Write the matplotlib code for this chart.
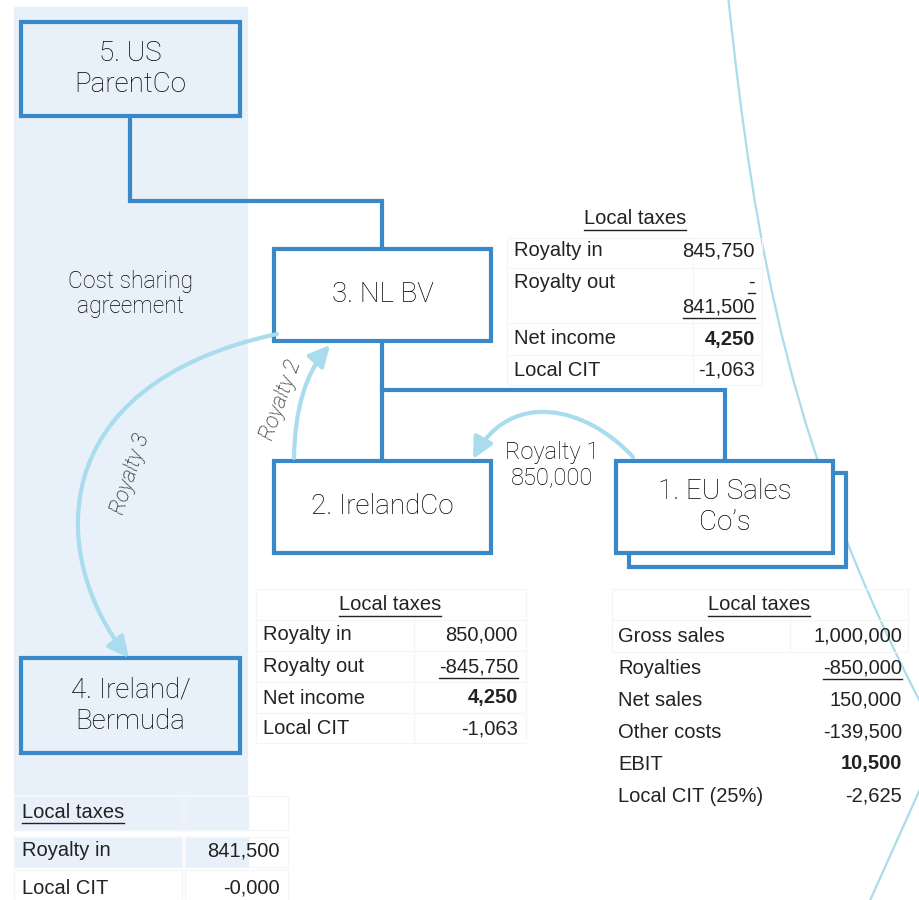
import matplotlib
matplotlib.use("Agg")
import matplotlib.pyplot as plt
from matplotlib.patches import Rectangle, FancyArrowPatch, PathPatch
from matplotlib.path import Path

# entities in the structure
entities = ["1. EU Sales\nCo\u2019s", "2. IrelandCo", "3. NL BV", "4. Ireland/\nBermuda", "5. US\nParentCo"]

# local tax tables
nl_labels = ["Royalty in", "Royalty out", "Net income", "Local CIT"]
nl_values = ["845,750", "-\n841,500", "4,250", "-1,063"]
ie_labels = ["Royalty in", "Royalty out", "Net income", "Local CIT"]
ie_values = ["850,000", "-845,750", "4,250", "-1,063"]
eu_labels = ["Gross sales", "Royalties", "Net sales", "Other costs", "EBIT", "Local CIT (25%)"]
eu_values = ["1,000,000", "-850,000", "150,000", "-139,500", "10,500", "-2,625"]
bm_labels = ["Royalty in", "Local CIT"]
bm_values = ["841,500", "-0,000"]
bold_rows = ["Net income", "EBIT"]
underlined_values = ["-845,750", "-850,000", "-\n841,500"]

royalty_labels = ["Royalty 1\n850,000", "Royalty 2", "Royalty 3"]

BLUE = "#3b88c9"
LIGHT = "#a9dcec"
PANEL = "#e8f0fa"
BOXFONT = dict(family=["Roboto", "DejaVu Sans"], fontweight="light", color="#000000")
TABFONT = dict(family=["Liberation Sans", "DejaVu Sans"], color="#222222")

fig = plt.figure(figsize=(9.19, 9.0), dpi=100)
ax = fig.add_axes([0, 0, 1, 1])
ax.set_xlim(0, 919)
ax.set_ylim(900, 0)
ax.axis("off")

# shaded cost sharing panel
ax.add_patch(Rectangle((14, 7), 233, 787, color=PANEL, zorder=0))
ax.add_patch(Rectangle((14, 796), 234, 34, color=PANEL, zorder=0))
ax.add_patch(Rectangle((14, 837), 168, 30, color=PANEL, zorder=0))
ax.add_patch(Rectangle((185, 837), 63, 30, color=PANEL, zorder=0))

# decorative arcs on the right
deco = Path([(728, -5), (755, 250), (790, 460), (935, 730)],
            [Path.MOVETO, Path.CURVE4, Path.CURVE4, Path.CURVE4])
ax.add_patch(PathPatch(deco, fill=False, ec=LIGHT, lw=1.6, zorder=1))
ax.plot([868, 925], [905, 778], color=LIGHT, lw=1.6, zorder=1)

# ownership lines
lw_box = 3.0
ax.plot([130, 130, 382, 382], [116, 201, 201, 249], color=BLUE, lw=lw_box,
        solid_joinstyle="miter", zorder=2)
ax.plot([382, 382], [341, 461], color=BLUE, lw=lw_box, zorder=2)
ax.plot([382, 725, 725], [390, 390, 461], color=BLUE, lw=lw_box,
        solid_joinstyle="miter", zorder=2)


def box(x0, y0, x1, y1, text, fc="white", size=20):
    ax.add_patch(Rectangle((x0, y0), x1 - x0, y1 - y0, fc=fc, ec=BLUE, lw=lw_box,
                           joinstyle="miter", zorder=3))
    ax.text((x0 + x1) / 2, (y0 + y1) / 2, text, ha="center", va="center",
            fontsize=size, linespacing=1.2, zorder=4, **BOXFONT)


# EU sales co's: stacked boxes
ax.add_patch(Rectangle((629, 473), 217, 94, fc="white", ec=BLUE, lw=lw_box, zorder=3))
box(616, 461, 833, 553, entities[0])
box(274, 461, 491, 553, entities[1])
box(274, 249, 491, 341, entities[2])
box(21, 658, 240, 753, entities[3], fc=PANEL)
box(21, 22, 240, 116, entities[4], fc=PANEL)

ax.text(130, 294, "Cost sharing\nagreement", ha="center", va="center", fontsize=16.5,
        linespacing=1.15, **BOXFONT)

# royalty flows
aprops = dict(arrowstyle="-|>,head_length=0.7,head_width=0.35", mutation_scale=18,
              color=LIGHT, lw=3.0, zorder=5)
r1 = Path([(633, 457), (585, 405), (510, 390), (473, 459)],
          [Path.MOVETO, Path.CURVE4, Path.CURVE4, Path.CURVE4])
r2 = Path([(294, 458), (295, 385), (330, 345)],
          [Path.MOVETO, Path.CURVE3, Path.CURVE3])
r3 = Path([(277, 334), (40, 385), (50, 560), (129, 658)],
          [Path.MOVETO, Path.CURVE4, Path.CURVE4, Path.CURVE4])
for p in (r1, r2, r3):
    ax.add_patch(FancyArrowPatch(path=p, **aprops))

ax.text(552, 465, royalty_labels[0], ha="center", va="center", fontsize=17,
        linespacing=1.1, **BOXFONT)
ax.text(281, 400, royalty_labels[1], ha="center", va="center", fontsize=15.5,
        rotation=70, style="italic", **BOXFONT)
ax.text(131, 474, royalty_labels[2], ha="center", va="center", fontsize=15.5,
        rotation=72, style="italic", **BOXFONT)

fig.canvas.draw()
renderer = fig.canvas.get_renderer()
inv = ax.transData.inverted()


def underline(t):
    bb = t.get_window_extent(renderer)
    (x0, y0), (x1, y1) = inv.transform([(bb.x0, bb.y0), (bb.x1, bb.y1)])
    ax.plot([x0, x1], [y0 + 1.0, y0 + 1.0], color="#222222", lw=1.0, zorder=6)


def cellbox(x0, y0, x1, y1):
    ax.add_patch(Rectangle((x0, y0), x1 - x0, y1 - y0, fill=False, ec="#f5f5f5",
                           lw=0.8, zorder=1))


def table(hx, hy, lx, vx, ys, labels, values, size=14.5, left_header=False):
    h = ax.text(hx, hy, "Local taxes", ha="left" if left_header else "center",
                va="center", fontsize=size, **TABFONT)
    underline(h)
    for y, lab, val in zip(ys, labels, values):
        w = "bold" if lab in bold_rows else "normal"
        ax.text(lx, y, lab, ha="left", va="center", fontsize=size, **TABFONT)
        if "\n" in val:
            parts = val.split("\n")
            t1 = ax.text(vx, y, parts[0], ha="right", va="center", fontsize=size, **TABFONT)
            t2 = ax.text(vx, y + 25, parts[1], ha="right", va="center", fontsize=size, **TABFONT)
            underline(t1)
            underline(t2)
        else:
            t = ax.text(vx, y, val, ha="right", va="center", fontsize=size,
                        fontweight=w, **TABFONT)
            if val in underlined_values:
                underline(t)


# faint cell outlines
for y0, y1 in [(238, 268), (268, 323), (323, 355), (355, 385)]:
    cellbox(507, y0, 693, y1)
    cellbox(693, y0, 762, y1)
for y0, y1 in [(589, 620), (620, 651), (651, 682), (682, 713), (713, 743)]:
    cellbox(256, y0, 414, y1)
    cellbox(414, y0, 526, y1)
for y0, y1 in [(589, 620), (620, 652)]:
    cellbox(612, y0, 790, y1)
    cellbox(790, y0, 908, y1)
for y0, y1 in [(796, 830), (837, 867), (870, 900)]:
    cellbox(14, y0, 182, y1)
    cellbox(185, y0, 288, y1)

fig.canvas.draw()
table(635, 219, 514, 755, [251, 282, 339, 370], nl_labels, nl_values)
table(390, 605, 263, 518, [635, 667, 698, 729], ie_labels, ie_values)
table(759, 605, 618, 902, [636, 668, 700, 732, 764, 796], eu_labels, eu_values)
table(22, 812, 22, 280, [851, 888], bm_labels, bm_values, left_header=True)

fig.savefig("out.png", dpi=100)
